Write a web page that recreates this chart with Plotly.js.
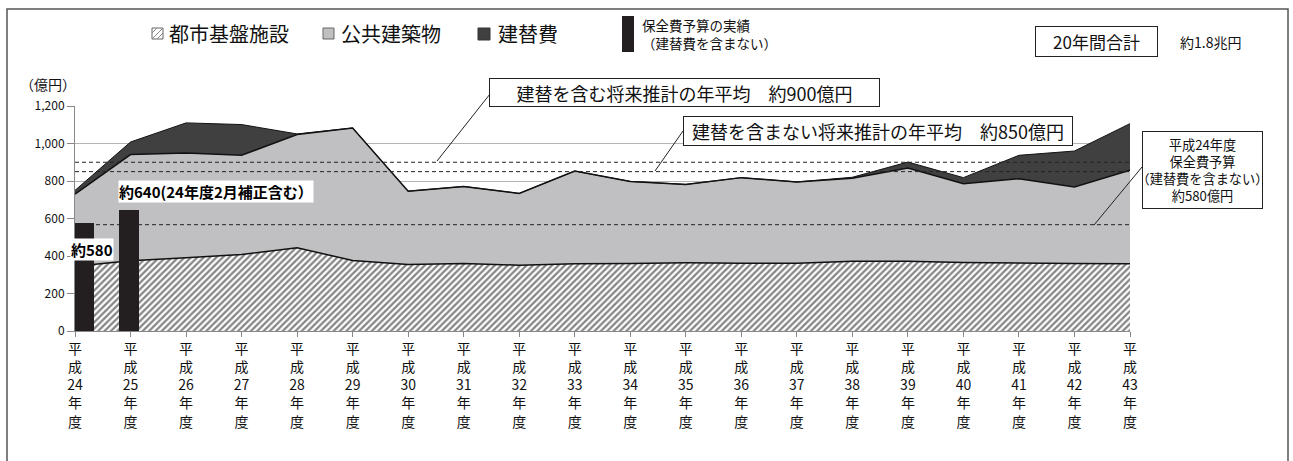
<!DOCTYPE html>
<html><head><meta charset="utf-8">
<script src="https://cdn.plot.ly/plotly-3.0.1.min.js"></script>
<style>html,body{margin:0;padding:0;background:#fff}#chart{width:1293px;height:461px}</style>
</head><body><div id="chart"></div>
<script>
// ---- data ----
const categories = ['平成24年度','平成25年度','平成26年度','平成27年度','平成28年度','平成29年度','平成30年度','平成31年度','平成32年度','平成33年度',
                    '平成34年度','平成35年度','平成36年度','平成37年度','平成38年度','平成39年度','平成40年度','平成41年度','平成42年度','平成43年度'];
const infrastructure  = [345, 375, 391, 408, 444, 376, 355, 360, 351, 359, 360, 364, 362, 362, 372, 372, 366, 362, 360, 359];
const publicBuildings = [385, 566, 558, 529, 604, 707, 391, 411, 383, 494, 438, 418, 456, 433, 443, 497, 420, 450, 408, 498];
const rebuilding      = [20, 67, 161, 164, 3, 0, 0, 0, 0, 0, 0, 0, 0, 0, 5, 32, 32, 125, 192, 249];
const budgetYears  = ['平成24年度','平成25年度'];
const budgetActual = [575, 648];
const budgetLabels = ['約580', '約640(24年度2月補正含む）'];
const averageLines = [900, 850, 567];
const seriesNames = ['都市基盤施設', '公共建築物', '建替費', '保全費予算の実績<br>（建替費を含まない）'];
const yTicks = [0, 200, 400, 600, 800, 1000, 1200];

// ---- helpers (pixel -> paper) ----
const L = 75, R = 1130, T = 106, B = 331;
const px = x => (x - L) / (R - L);
const py = y => (B - y) / (B - T);
const FONT = '"Noto Sans CJK JP", "Noto Sans", sans-serif';
const tickText = categories.map(c => c.match(/平|成|\d+|年|度/g).join('<br>'));

const traces = [
  {x: categories, y: infrastructure, name: seriesNames[0], type: 'scatter', mode: 'lines', stackgroup: 'one',
   line: {color: '#111', width: 1.5}, fillcolor: '#ffffff',
   fillpattern: {shape: '/', fgcolor: '#858585', bgcolor: '#ffffff', size: 4.5, solidity: 0.5}},
  {x: categories, y: publicBuildings, name: seriesNames[1], type: 'scatter', mode: 'lines', stackgroup: 'one',
   line: {color: '#111', width: 1.5}, fillcolor: '#c0c0c2'},
  {x: categories, y: rebuilding, name: seriesNames[2], type: 'scatter', mode: 'lines', stackgroup: 'one',
   line: {color: '#111', width: 1}, fillcolor: '#404040'},
  {x: budgetYears, y: budgetActual, name: seriesNames[3], type: 'bar', xaxis: 'x2', yaxis: 'y2',
   marker: {color: '#231f20'}, width: [0.34, 0.36], offset: [0, -0.21]}
];

const shapes = [
  // outer frame
  {type: 'rect', xref: 'paper', yref: 'paper', x0: px(7), x1: px(1288), y0: py(9), y1: py(480),
   line: {color: '#555', width: 1.5}, fillcolor: 'rgba(0,0,0,0)', layer: 'below'},
  // legend markers
  {type: 'rect', xref: 'paper', yref: 'paper', x0: px(152), x1: px(163), y0: py(28), y1: py(39),
   line: {color: '#666', width: 1}, fillcolor: '#fff'},
  {type: 'path', xref: 'paper', yref: 'paper',
   path: `M ${px(152)} ${py(33)} L ${px(157)} ${py(28)} M ${px(152)} ${py(39)} L ${px(163)} ${py(28)} M ${px(157)} ${py(39)} L ${px(163)} ${py(33)}`,
   line: {color: '#888', width: 1}},
  {type: 'rect', xref: 'paper', yref: 'paper', x0: px(323), x1: px(334), y0: py(28), y1: py(39),
   line: {color: '#666', width: 1}, fillcolor: '#c0c0c2'},
  {type: 'rect', xref: 'paper', yref: 'paper', x0: px(478), x1: px(490), y0: py(28), y1: py(40),
   line: {color: '#333', width: 1}, fillcolor: '#404040'},
  {type: 'rect', xref: 'paper', yref: 'paper', x0: px(622), x1: px(634), y0: py(16), y1: py(52),
   line: {color: '#231f20', width: 0}, fillcolor: '#231f20'},
  // leader lines
  {type: 'line', xref: 'paper', yref: 'paper', x0: px(490), y0: py(94), x1: px(437), y1: py(161), line: {color: '#222', width: 1}},
  {type: 'line', xref: 'paper', yref: 'paper', x0: px(683), y0: py(131), x1: px(655), y1: py(171), line: {color: '#222', width: 1}},
  {type: 'line', xref: 'paper', yref: 'paper', x0: px(1142), y0: py(167), x1: px(1094), y1: py(225), line: {color: '#222', width: 1}}
].concat(averageLines.map(v => ({
  type: 'line', xref: 'paper', x0: 0, x1: 1, yref: 'y', y0: v, y1: v, layer: 'above',
  line: {color: '#222', width: 1, dash: '4px,3px'}
})));

const box = {bordercolor: '#222', borderwidth: 1, bgcolor: '#fff', showarrow: false, xref: 'paper', yref: 'paper'};
const annotations = [
  {text: '（億円）', x: px(48), y: py(84), xref: 'paper', yref: 'paper', xanchor: 'center', yanchor: 'middle', showarrow: false,
   font: {family: FONT, size: 14, color: '#111'}},
  {text: seriesNames[0], x: px(167), y: py(34), xref: 'paper', yref: 'paper', xanchor: 'left', yanchor: 'middle', showarrow: false,
   font: {family: FONT, size: 20, color: '#111'}},
  {text: seriesNames[1], x: px(339), y: py(34), xref: 'paper', yref: 'paper', xanchor: 'left', yanchor: 'middle', showarrow: false,
   font: {family: FONT, size: 20, color: '#111'}},
  {text: seriesNames[2], x: px(496), y: py(34), xref: 'paper', yref: 'paper', xanchor: 'left', yanchor: 'middle', showarrow: false,
   font: {family: FONT, size: 20, color: '#111'}},
  {text: seriesNames[3], x: px(640), y: py(34), xref: 'paper', yref: 'paper', xanchor: 'left', yanchor: 'middle', align: 'left', showarrow: false,
   font: {family: FONT, size: 13.5, color: '#111'}},
  Object.assign({text: '20年間合計', x: px(1035), y: py(26), xanchor: 'left', yanchor: 'top', width: 117, height: 25, borderpad: 2,
   font: {family: FONT, size: 17, color: '#111'}}, box),
  {text: '約1.8兆円', x: px(1210), y: py(42), xref: 'paper', yref: 'paper', xanchor: 'center', yanchor: 'middle', showarrow: false,
   font: {family: FONT, size: 14, color: '#111'}},
  Object.assign({text: '建替を含む将来推計の年平均　約900億円', x: px(489), y: py(78), xanchor: 'left', yanchor: 'top', width: 385, height: 23, borderpad: 2,
   font: {family: FONT, size: 18, color: '#111'}}, box),
  Object.assign({text: '建替を含まない将来推計の年平均　約850億円', x: px(683), y: py(116), xanchor: 'left', yanchor: 'top', width: 384, height: 24, borderpad: 2,
   font: {family: FONT, size: 18, color: '#111'}}, box),
  Object.assign({text: '平成24年度<br>保全費予算<br>（建替費を含まない）<br>約580億円', x: px(1142), y: py(131), xanchor: 'left', yanchor: 'top',
   width: 117, height: 74, borderpad: 1, align: 'center',
   font: {family: FONT, size: 13.2, color: '#111'}}, box),
  {text: '<b>' + budgetLabels[0] + '</b>', x: px(92), y: py(249), xref: 'paper', yref: 'paper', xanchor: 'center', yanchor: 'middle',
   showarrow: false, bgcolor: '#fff', borderpad: 0, font: {family: FONT, size: 15, color: '#000'}},
  {text: '<b>' + budgetLabels[1] + '</b>', x: px(216), y: py(191), xref: 'paper', yref: 'paper', xanchor: 'center', yanchor: 'middle',
   showarrow: false, bgcolor: '#fff', borderpad: 0, font: {family: FONT, size: 15, color: '#000'}}
];

const layout = {
  width: 1293, height: 461,
  margin: {l: L, r: 1293 - R, t: T, b: 461 - B, pad: 0},
  paper_bgcolor: '#fff', plot_bgcolor: '#fff',
  showlegend: false,
  font: {family: FONT, color: '#111'},
  xaxis: {type: 'category', categoryorder: 'array', categoryarray: categories, range: [0, 19],
          tickvals: categories, ticktext: tickText, ticks: 'outside', ticklen: 5, tickcolor: '#888',
          showline: true, linecolor: '#888', linewidth: 1, showgrid: false, zeroline: false,
          tickfont: {family: FONT, size: 14, color: '#111'}, fixedrange: true},
  yaxis: {range: [0, 1200], tickvals: yTicks, tickformat: ',d', ticks: 'outside', ticklen: 7, tickcolor: '#888',
          showline: true, linecolor: '#888', linewidth: 1, showgrid: true, gridcolor: '#b4b4b4', gridwidth: 1, zeroline: false,
          tickfont: {family: FONT, size: 12, color: '#111'}, fixedrange: true},
  xaxis2: {type: 'category', categoryorder: 'array', categoryarray: categories, range: [0, 19], overlaying: 'x', visible: false, fixedrange: true},
  yaxis2: {range: [0, 1200], overlaying: 'y', visible: false, fixedrange: true},
  bargap: 0,
  shapes: shapes,
  annotations: annotations
};

Plotly.newPlot('chart', traces, layout, {displayModeBar: false, staticPlot: true});
</script>
</body></html>
